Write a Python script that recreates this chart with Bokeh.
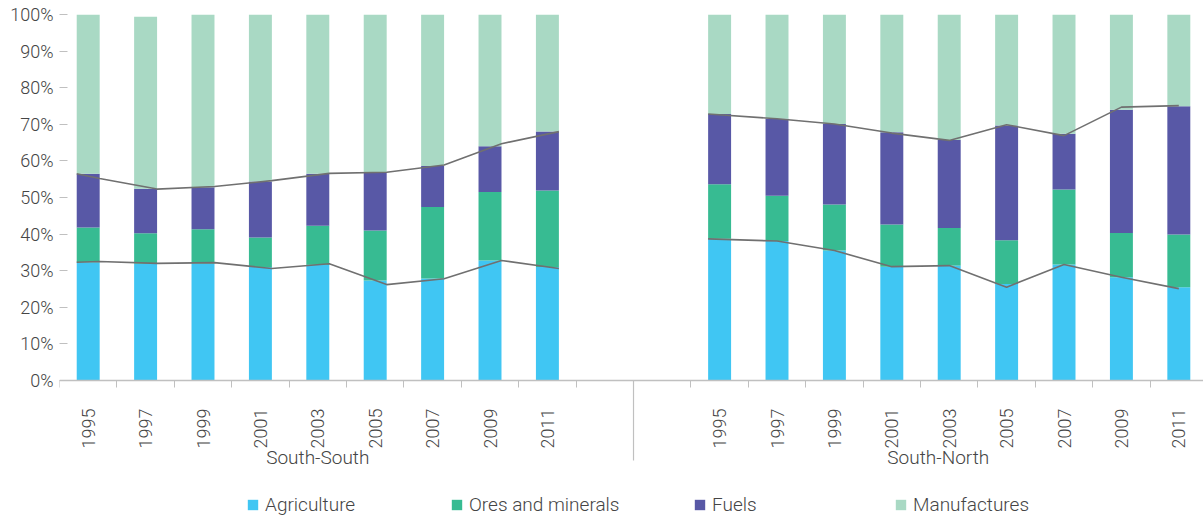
from bokeh.plotting import figure
from bokeh.models import (ColumnDataSource, FixedTicker, PrintfTickFormatter, Range1d,
                          Label, Legend, LegendItem)
from bokeh.embed import file_html
from bokeh.resources import INLINE

# ---------------- data ----------------
years = ["1995", "1997", "1999", "2001", "2003", "2005", "2007", "2009", "2011"]
groups = ["South-South", "South-North"]
categories = ["Agriculture", "Ores and minerals", "Fuels", "Manufactures"]
colors = ["#40C6F3", "#37BB92", "#5858A6", "#A9D9C4"]

# shares (%) South-South
ss_agriculture = [32.3, 31.9, 32.0, 31.0, 31.6, 27.3, 27.9, 32.8, 31.0]
ss_ores = [9.5, 8.3, 9.3, 8.1, 10.7, 13.7, 19.5, 18.7, 20.9]
ss_fuels = [14.7, 12.2, 11.5, 15.3, 14.2, 15.9, 11.2, 12.5, 16.1]
ss_manufactures = [43.5, 47.0, 47.2, 45.6, 43.5, 43.1, 41.4, 36.0, 32.0]

# shares (%) South-North
sn_agriculture = [38.7, 38.1, 35.5, 31.1, 31.4, 26.4, 31.7, 28.2, 25.5]
sn_ores = [14.9, 12.4, 12.6, 11.5, 10.3, 11.9, 20.5, 12.1, 14.4]
sn_fuels = [19.2, 21.0, 22.0, 25.2, 24.0, 31.4, 15.2, 33.7, 35.0]
sn_manufactures = [27.2, 28.5, 29.9, 32.2, 34.3, 30.3, 32.6, 26.0, 25.1]

# overlay lines (%)
ss_line_lower = [32.5, 32.0, 32.2, 30.6, 31.9, 26.2, 27.8, 32.8, 30.6]
ss_line_upper = [55.2, 52.3, 53.0, 54.6, 56.6, 56.9, 58.9, 64.7, 68.0]
sn_line_lower = [38.7, 38.1, 35.5, 31.1, 31.4, 25.5, 31.7, 28.2, 25.1]
sn_line_upper = [72.8, 71.5, 70.1, 67.6, 65.6, 69.9, 66.9, 74.7, 75.1]

y_ticks = [0, 10, 20, 30, 40, 50, 60, 70, 80, 90, 100]

# ---------------- layout helpers ----------------
ss_x = list(range(len(years)))
sn_x = [i + len(years) + 2 for i in range(len(years))]
xs = ss_x + sn_x

source = ColumnDataSource(dict(
    x=xs,
    agri=ss_agriculture + sn_agriculture,
    ores=ss_ores + sn_ores,
    fuels=ss_fuels + sn_fuels,
    manuf=ss_manufactures + sn_manufactures,
))

FONT = "Roboto Light"
TXT = "#454545"
GRAY = "#C0C0C0"
PX = 3.66  # pixels per percentage point
Y_MIN = -(518 - 380) / PX

p = figure(width=1203, height=518,
           x_range=Range1d(-0.5, 19.43), y_range=Range1d(Y_MIN, 100),
           output_backend="svg", toolbar_location=None,
           min_border_left=59, min_border_right=0, min_border_top=14, min_border_bottom=0)
p.outline_line_color = None
p.xgrid.visible = False
p.ygrid.visible = False
p.background_fill_color = "white"
p.border_fill_color = "white"

renderers = p.vbar_stack(["agri", "ores", "fuels", "manuf"], x="x", width=0.4,
                         fill_color=colors, line_color=None, source=source)

# overlay lines
ss_lx = [ss_x[0] - 0.2] + [v + 0.2 for v in ss_x]
ss_low_y = [ss_agriculture[0]] + ss_line_lower
ss_up_y = [ss_agriculture[0] + ss_ores[0] + ss_fuels[0]] + ss_line_upper
sn_lx = [sn_x[0] - 0.2] + sn_x[1:]
for lx, ly in [(ss_lx, ss_low_y), (ss_lx, ss_up_y), (sn_lx, sn_line_lower), (sn_lx, sn_line_upper)]:
    p.line(lx, ly, line_color="#707070", line_width=1.6)

# y axis
yax = p.yaxis[0]
yax.ticker = FixedTicker(ticks=y_ticks)
yax.formatter = PrintfTickFormatter(format="%d%%")
yax.axis_line_color = None
yax.major_tick_in = 8
yax.major_tick_out = 0
yax.major_tick_line_color = GRAY
yax.minor_tick_line_color = None
yax.major_label_standoff = 6
yax.major_label_text_font = FONT
yax.major_label_text_font_size = "18px"
yax.major_label_text_color = TXT

# x axis, drawn at the 0% line
xax = p.xaxis[0]
xax.fixed_location = 0
xax.ticker = FixedTicker(ticks=xs, minor_ticks=[i - 0.5 for i in range(20)])
xax.major_label_overrides = {x: y for x, y in zip(ss_x, years)} | {x: y for x, y in zip(sn_x, years)}
xax.major_label_orientation = 3.14159265 / 2
xax.major_tick_line_color = None
xax.major_tick_in = 0
xax.major_tick_out = 0
xax.minor_tick_in = 0
xax.minor_tick_out = 7
xax.minor_tick_line_color = GRAY
xax.axis_line_color = GRAY
xax.axis_line_width = 1.5
xax.major_label_standoff = 21
xax.major_label_text_font = FONT
xax.major_label_text_font_size = "18px"
xax.major_label_text_color = TXT

# group separator and labels
p.segment(x0=[9.5], y0=[0], x1=[9.5], y1=[-80 / PX], line_color=GRAY, line_width=1.2)
for gx, g in [(4, groups[0]), (14.81, groups[1])]:
    p.add_layout(Label(x=gx, y=-77 / PX, text=g, text_align="center", text_baseline="middle",
                       text_font=FONT, text_font_size="19px", text_color=TXT))

# legends
leg_x = [187, 391, 634, 835]
for name, r, lxp in zip(categories, renderers, leg_x):
    lg = Legend(items=[LegendItem(label=name, renderers=[r])], location=(lxp, 2),
                orientation="horizontal", glyph_width=13, glyph_height=13, label_standoff=6,
                padding=0, margin=0, spacing=0, border_line_color=None,
                background_fill_alpha=0, label_text_font=FONT, label_text_font_size="19px",
                label_text_color=TXT, label_height=18)
    p.add_layout(lg)

open("out.html", "w").write(file_html(p, INLINE))
